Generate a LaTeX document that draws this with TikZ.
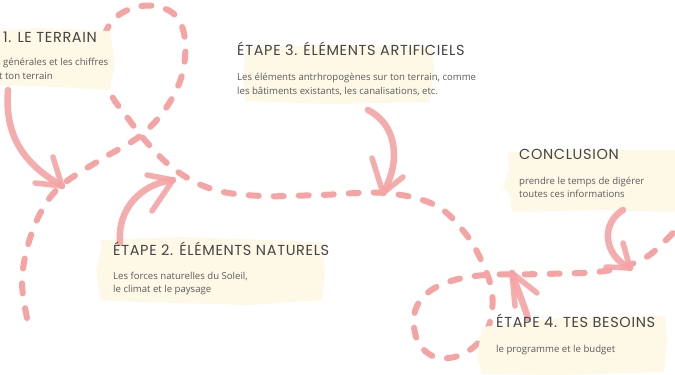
\documentclass[tikz,border=0pt]{standalone}
\usepackage{fontspec}
\setmainfont{Open Sans}
\newfontfamily\titlefont{Poppins}[LetterSpace=4.5]
\definecolor{pinkc}{HTML}{F5A3A3}
\definecolor{creamc}{HTML}{FEF9E6}
\definecolor{titlec}{HTML}{444444}
\definecolor{bodyc}{HTML}{5A5A5A}
\tikzset{
  trail/.style={draw=pinkc, line width=6pt, line cap=round, dash pattern=on 10pt off 15pt},
  cream/.style={fill=creamc, draw=none},
  stroke/.style={draw=pinkc, line width=6.5pt, line cap=round, opacity=0.9},
  barb/.style={draw=pinkc, line width=5.5pt, line cap=round, opacity=0.9},
  ttl/.style={anchor=base west, inner sep=0pt, text=titlec, font=\titlefont\fontsize{14.5}{16}\selectfont},
  bdy/.style={anchor=base west, inner sep=0pt, text=bodyc, font=\fontsize{9.6}{12}\selectfont},
}
\begin{document}
\begin{tikzpicture}[x=1pt,y=-1pt]
\useasboundingbox (0,0) rectangle (675,375);
\clip (0,0) rectangle (675,375);
\fill[white] (0,0) rectangle (675,375);

% dashed trail
\draw[trail] plot[smooth, tension=0.6] coordinates {
  (27,318) (22,282) (28,245) (42,210) (62,185) (100,160) (140,136) (166,108)
  (182,75) (185,40) (176,16) (155,6) (130,9) (110,24) (100,55) (110,92)
  (127,117) (150,146) (178,172) (215,190) (262,196) (320,195) (385,193)
  (435,205) (465,233) (482,262) (492,292) (490,322) (478,343) (458,356)
  (435,357) (418,342) (414,316) (424,296) (448,282) (485,275) (545,274)
  (605,271) (643,259) (666,240) (685,220)};

% cream boxes
\path[cream] (0,30) -- (40,28) -- (110,31) -- (112,45) -- (115,60) -- (113,75) -- (110,90) -- (60,87) -- (0,85) -- cycle;
\path[cream] (246,48) -- (330,45) -- (432,48) -- (434,70) -- (432,90) -- (430,102) -- (330,104) -- (245,101) -- (243,80) -- cycle;
\path[cream] (508,152) -- (600,150) -- (675,150) -- (675,212) -- (600,210) -- (512,212) -- (510,195) -- (503,187) -- (509,170) -- cycle;
\path[cream] (102,247) -- (100,240) -- (180,237) -- (322,242) -- (325,270) -- (322,300) -- (250,305) -- (140,302) -- (100,300) -- (96,270) -- cycle;
\path[cream] (482,327) -- (560,318) -- (665,316) -- (667,340) -- (664,372) -- (560,375) -- (482,374) -- (477,355) -- (480,340) -- cycle;

% arrows
% 1. terrain
\coordinate (a1s) at (8,90);
\coordinate (a1t) at (62,186);
\coordinate (a1l) at (53,157);
\coordinate (a1r) at (35,183);
\draw[stroke] (a1s) .. controls (4,140) and (28,166) .. (a1t);
\draw[barb] (a1l) -- (a1t);
\draw[barb] (a1r) -- (a1t);
% 2. naturels
\coordinate (a2s) at (120,243);
\coordinate (a2t) at (173,180);
\coordinate (a2l) at (147,175);
\coordinate (a2r) at (152,211);
\draw[stroke] (a2s) .. controls (117,210) and (140,184) .. (a2t);
\draw[barb] (a2l) -- (a2t);
\draw[barb] (a2r) -- (a2t);
% 3. artificiels
\coordinate (a3s) at (368,110);
\coordinate (a3t) at (383,193);
\coordinate (a3l) at (372,158);
\coordinate (a3r) at (403,177);
\draw[stroke] (a3s) .. controls (396,124) and (402,160) .. (a3t);
\draw[barb] (a3l) -- (a3t);
\draw[barb] (a3r) -- (a3t);
% 4. besoins
\coordinate (a4s) at (528,318);
\coordinate (a4t) at (512,273);
\coordinate (a4l) at (515,306);
\coordinate (a4r) at (537,293);
\draw[stroke] (a4s) .. controls (522,300) and (516,285) .. (a4t);
\draw[barb] (a4l) -- (a4t);
\draw[barb] (a4r) -- (a4t);
% conclusion
\coordinate (a5s) at (623,210);
\coordinate (a5t) at (630,268);
\coordinate (a5l) at (623,243);
\coordinate (a5r) at (606,267);
\draw[stroke] (a5s) .. controls (600,224) and (604,256) .. (a5t);
\draw[barb] (a5l) -- (a5t);
\draw[barb] (a5r) -- (a5t);

% texts
\node[ttl] (t1) at (3,42) {1. LE TERRAIN};
\node[bdy] (b1a) at (3,65) {générales et les chiffres};
\node[bdy] (b1b) at (-1,79) {t ton terrain};

\node[ttl] (t3) at (237,55) {ÉTAPE 3. ÉLÉMENTS ARTIFICIELS};
\node[bdy] (b3a) at (237,80) {Les éléments antrhropogènes sur ton terrain, comme};
\node[bdy] (b3b) at (237,94) {les bâtiments existants, les canalisations, etc.};

\node[ttl] (tc) at (519,159) {CONCLUSION};
\node[bdy] (bca) at (519,184) {prendre le temps de digérer};
\node[bdy] (bcb) at (519,197.5) {toutes ces informations};

\node[ttl] (t2) at (113,255) {ÉTAPE 2. ÉLÉMENTS NATURELS};
\node[bdy] (b2a) at (113,279) {Les forces naturelles du Soleil,};
\node[bdy] (b2b) at (113,292.5) {le climat et le paysage};

\node[ttl] (t4) at (496,327) {ÉTAPE 4. TES BESOINS};
\node[bdy] (b4a) at (496,352) {le programme et le budget};
\end{tikzpicture}
\end{document}
